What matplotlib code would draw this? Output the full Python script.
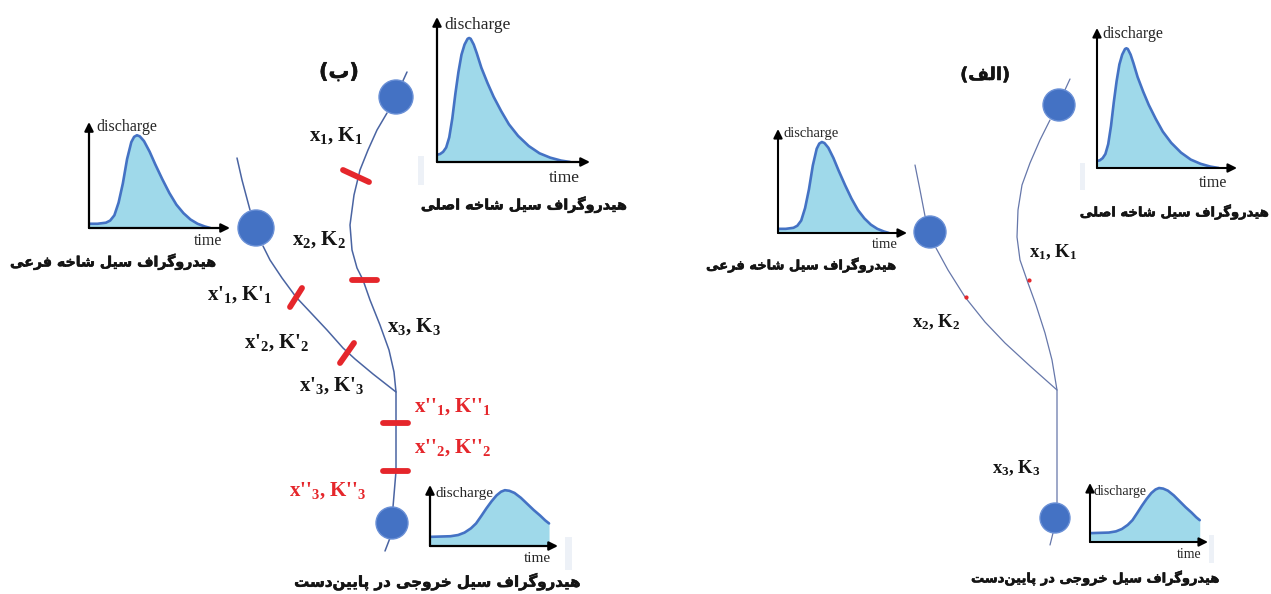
import matplotlib
matplotlib.use("Agg")
import matplotlib.pyplot as plt
import matplotlib.patheffects as pe
from matplotlib import font_manager
from matplotlib.font_manager import FontProperties
from matplotlib.ft2font import FT2Font
from matplotlib.patches import Circle, Rectangle

W, H = 1271, 594

# ---------------------------------------------------------------- data
# Hydrograph shapes: time and discharge as fractions of the axis length
MAIN_T = [0.00, 0.02, 0.04, 0.06, 0.08, 0.10, 0.12, 0.14, 0.16, 0.18, 0.20, 0.21, 0.22,
          0.24, 0.26, 0.29, 0.33, 0.37, 0.42, 0.47, 0.53, 0.60, 0.67, 0.74, 0.81, 0.87]
MAIN_Q = [0.05, 0.055, 0.07, 0.10, 0.17, 0.30, 0.47, 0.62, 0.74, 0.81, 0.85, 0.855, 0.85,
          0.81, 0.75, 0.65, 0.545, 0.45, 0.35, 0.26, 0.18, 0.11, 0.06, 0.03, 0.01, 0.0]

TRIB_T = [0.00, 0.06, 0.12, 0.15, 0.18, 0.21, 0.24, 0.27, 0.30, 0.32, 0.34, 0.36, 0.39,
          0.43, 0.47, 0.52, 0.57, 0.62, 0.67, 0.72, 0.77, 0.82, 0.86]
TRIB_Q = [0.04, 0.04, 0.05, 0.07, 0.12, 0.24, 0.42, 0.65, 0.81, 0.86, 0.875, 0.865, 0.82,
          0.72, 0.60, 0.46, 0.33, 0.22, 0.14, 0.08, 0.04, 0.015, 0.0]

OUT_T = [0.00, 0.08, 0.16, 0.22, 0.27, 0.32, 0.36, 0.40, 0.44, 0.48, 0.52, 0.555, 0.585,
         0.62, 0.66, 0.71, 0.76, 0.81, 0.86, 0.90, 0.93]
OUT_Q = [0.15, 0.155, 0.16, 0.18, 0.22, 0.29, 0.37, 0.49, 0.615, 0.73, 0.83, 0.89, 0.915,
         0.905, 0.87, 0.79, 0.69, 0.59, 0.50, 0.42, 0.37]

# Text
TITLE_A = "(الف)"
TITLE_B = "(ب)"
CAP_MAIN = "هیدروگراف سیل شاخه اصلی"
CAP_TRIB = "هیدروگراف سیل شاخه فرعی"
CAP_OUT = "هیدروگراف سیل خروجی در پایین\u200cدست"
Y_LABEL = "discharge"
X_LABEL = "time"

REACHES_B = ["x$_1$, K$_1$", "x$_2$, K$_2$", "x$_3$, K$_3$"]
REACHES_B_TRIB = ["x'$_1$, K'$_1$", "x'$_2$, K'$_2$", "x'$_3$, K'$_3$"]
REACHES_B_OUT = ["x''$_1$, K''$_1$", "x''$_2$, K''$_2$", "x''$_3$, K''$_3$"]
REACHES_A = ["x$_1$, K$_1$", "x$_2$, K$_2$", "x$_3$, K$_3$"]

# ---------------------------------------------------------------- style
FILL = "#9fd9ea"
CURVE = "#4472c4"
NODE = "#4472c4"
NODE_EDGE = "#6a90d6"
RIVER = "#4a64a2"
RIVER_A = "#6677aa"
RED = "#e5262b"
INK = "#141414"

plt.rcParams.update({
    "mathtext.fontset": "custom",
    "mathtext.rm": "Liberation Serif:bold",
    "mathtext.it": "Liberation Serif:bold",
    "mathtext.bf": "Liberation Serif:bold",
    "mathtext.default": "rm",
})

# ---------------------------------------------------------------- Persian shaping
_FORMS = {
    "ا": ("\uFE8D", "\uFE8E", None, None),
    "ب": ("\uFE8F", "\uFE90", "\uFE91", "\uFE92"),
    "پ": ("\uFB56", "\uFB57", "\uFB58", "\uFB59"),
    "ت": ("\uFE95", "\uFE96", "\uFE97", "\uFE98"),
    "ج": ("\uFE9D", "\uFE9E", "\uFE9F", "\uFEA0"),
    "خ": ("\uFEA5", "\uFEA6", "\uFEA7", "\uFEA8"),
    "د": ("\uFEA9", "\uFEAA", None, None),
    "ر": ("\uFEAD", "\uFEAE", None, None),
    "س": ("\uFEB1", "\uFEB2", "\uFEB3", "\uFEB4"),
    "ش": ("\uFEB5", "\uFEB6", "\uFEB7", "\uFEB8"),
    "ص": ("\uFEB9", "\uFEBA", "\uFEBB", "\uFEBC"),
    "ع": ("\uFEC9", "\uFECA", "\uFECB", "\uFECC"),
    "ف": ("\uFED1", "\uFED2", "\uFED3", "\uFED4"),
    "گ": ("\uFB92", "\uFB93", "\uFB94", "\uFB95"),
    "ل": ("\uFEDD", "\uFEDE", "\uFEDF", "\uFEE0"),
    "ن": ("\uFEE5", "\uFEE6", "\uFEE7", "\uFEE8"),
    "ه": ("\uFEE9", "\uFEEA", "\uFEEB", "\uFEEC"),
    "و": ("\uFEED", "\uFEEE", None, None),
    "\u06CC": ("\uFBFC", "\uFBFD", "\uFBFE", "\uFBFF"),
    "\u064A": ("\uFBFC", "\uFBFD", "\uFBFE", "\uFBFF"),
}
_YEH_FALLBACK = {"\uFBFC": "\uFEEF", "\uFBFD": "\uFEF0", "\uFBFE": "\uFEF3", "\uFBFF": "\uFEF4"}


def shape_rtl(text):
    chars = list(text)
    out = []
    for i, c in enumerate(chars):
        if c not in _FORMS:
            out.append(c)
            continue
        prev = chars[i - 1] if i > 0 else None
        nxt = chars[i + 1] if i + 1 < len(chars) else None
        join_prev = prev in _FORMS and _FORMS[prev][2] is not None
        join_next = nxt in _FORMS and _FORMS[c][2] is not None
        iso, fin, ini, med = _FORMS[c]
        if join_prev and join_next:
            out.append(med)
        elif join_prev:
            out.append(fin)
        elif join_next:
            out.append(ini)
        else:
            out.append(iso)
    out = [ch for ch in out if ch != "\u200c"]
    mirror = {"(": ")", ")": "("}
    return "".join(mirror.get(ch, ch) for ch in reversed(out))


_FA_STRINGS = [shape_rtl(s) for s in (TITLE_A, TITLE_B, CAP_MAIN, CAP_TRIB, CAP_OUT)]
_needed = {ord(c) for s in _FA_STRINGS for c in s if c != " "}
_bold_path = font_manager.findfont(FontProperties(family="DejaVu Sans", weight="bold"))
_reg_path = font_manager.findfont(FontProperties(family="DejaVu Sans"))
if _needed <= set(FT2Font(_bold_path).get_charmap()):
    FA_PATH, FA_EFFECTS = _bold_path, [pe.withStroke(linewidth=0.4, foreground=INK)]
else:
    FA_PATH = _reg_path
    FA_EFFECTS = [pe.withStroke(linewidth=1.1, foreground=INK)]
_reg_map = set(FT2Font(FA_PATH).get_charmap())


def fa(text):
    s = shape_rtl(text)
    return "".join(_YEH_FALLBACK.get(c, c) if ord(c) not in _reg_map else c for c in s)


# ---------------------------------------------------------------- canvas
fig = plt.figure(figsize=(W / 100, H / 100), dpi=100)
fig.patch.set_facecolor("white")
ax = fig.add_axes([0, 0, 1, 1])
ax.set_xlim(0, W)
ax.set_ylim(H, 0)
ax.axis("off")
renderer = fig.canvas.get_renderer()


def fit_width(t, width):
    w = t.get_window_extent(renderer).width
    t.set_fontsize(t.get_fontsize() * width / w)
    return t


def fa_text(x, y, s, width, size=13):
    t = ax.text(x, y, fa(s), fontproperties=FontProperties(fname=FA_PATH, size=size),
                ha="center", va="center", color=INK, path_effects=FA_EFFECTS)
    return fit_width(t, width)


def serif(x, y, s, size, color=INK, bold=True, ha="left"):
    fp = FontProperties(family="Liberation Serif", weight="bold" if bold else "normal", size=size)
    return ax.text(x, y, s, fontproperties=fp, color=color, ha=ha, va="center")


def river(pts, color, lw):
    ax.plot([p[0] for p in pts], [p[1] for p in pts], color=color, lw=lw,
            solid_capstyle="round", solid_joinstyle="round", zorder=2)


def node(x, y, r):
    ax.add_patch(Circle((x, y), r, facecolor=NODE, edgecolor=NODE_EDGE, lw=1.0, zorder=3))


def tick(x0, y0, x1, y1):
    ax.plot([x0, x1], [y0, y1], color=RED, lw=4.2, solid_capstyle="round", zorder=4)


def smudge(x, y, w, h):
    ax.add_patch(Rectangle((x, y), w, h, facecolor="#edf1f7", edgecolor="none", zorder=1))


def hydrograph(x0, y0, x1, y1, t, q, label_size, dlab, tlab, lw_axis=1.6):
    a = fig.add_axes([x0 / W, 1 - y0 / H, (x1 - x0) / W, (y0 - y1) / H])
    a.set_xlim(0, 1)
    a.set_ylim(0, 1)
    a.axis("off")
    a.patch.set_visible(False)
    a.fill_between(t, q, 0, color=FILL, lw=0, zorder=1)
    a.plot(t, q, color=CURVE, lw=1.9, zorder=2, solid_capstyle="round")
    for end in [(0, 1), (1, 0)]:
        a.annotate("", xy=end, xytext=(0, 0), xycoords="axes fraction",
                   arrowprops=dict(arrowstyle="-|>", color="black", lw=lw_axis,
                                   mutation_scale=13, shrinkA=0, shrinkB=0),
                   annotation_clip=False, zorder=3)
    serif(dlab[0], dlab[1], Y_LABEL, label_size, bold=False, color="#262626")
    serif(tlab[0], tlab[1], X_LABEL, label_size, bold=False, color="#262626")
    return a


# ================================================================ panel (ب)
# main branch
river([(407, 72), (396, 96)], RIVER, 1.1)
river([(387, 113), (377, 130), (368, 150), (360, 170), (354, 195), (350, 225), (352, 250),
       (357, 268), (363, 280), (370, 300), (380, 325), (389, 350), (394, 372), (396, 392),
       (396, 430), (396, 471), (393, 507)], RIVER, 1.1)
river([(390, 538), (385, 551)], RIVER, 1.1)
# tributary
river([(237, 158), (242, 180), (250, 210)], RIVER, 1.1)
river([(263, 246), (270, 260), (282, 278), (296, 297), (312, 314), (327, 330), (343, 348),
       (355, 359), (373, 374), (396, 392)], RIVER, 1.1)

node(396, 97, 17)
node(256, 228, 18)
node(392, 523, 16)

tick(343, 170, 369, 182)
tick(352, 280, 377, 280)
tick(290, 307, 302, 288)
tick(340, 363, 354, 343)
tick(383, 423, 408, 423)
tick(383, 471, 408, 471)

LAB_B = 15
serif(309, 136, REACHES_B[0], LAB_B)
serif(292, 240, REACHES_B[1], LAB_B)
serif(387, 327, REACHES_B[2], LAB_B)
serif(207, 295, REACHES_B_TRIB[0], LAB_B)
serif(244, 343, REACHES_B_TRIB[1], LAB_B)
serif(299, 386, REACHES_B_TRIB[2], LAB_B)
serif(414, 407, REACHES_B_OUT[0], LAB_B, color=RED)
serif(414, 448, REACHES_B_OUT[1], LAB_B, color=RED)
serif(289, 491, REACHES_B_OUT[2], LAB_B, color=RED)

smudge(418, 156, 6, 29)
smudge(565, 537, 7, 33)

hydrograph(437, 162, 590, 17, MAIN_T, MAIN_Q, 12.5, (444, 25), (549, 178))
hydrograph(89, 228, 230, 122, TRIB_T, TRIB_Q, 11.5, (96, 127), (194, 241))
hydrograph(430, 546, 558, 485, OUT_T, OUT_Q, 11, (435, 493), (524, 559))

fa_text(339, 72, TITLE_B, 40, 16)
fa_text(524, 205, CAP_MAIN, 206)
fa_text(113, 262, CAP_TRIB, 206)
fa_text(437, 582, CAP_OUT, 286)

# ================================================================ panel (الف)
river([(1070, 79), (1064, 92)], RIVER_A, 0.9)
river([(1050, 120), (1040, 140), (1030, 163), (1022, 185), (1018, 210), (1017, 237),
       (1020, 260), (1028, 283), (1036, 305), (1045, 333), (1052, 360), (1057, 390),
       (1057, 420), (1057, 503)], RIVER_A, 0.9)
river([(1053, 533), (1050, 545)], RIVER_A, 0.9)
river([(915, 165), (920, 190), (925, 216)], RIVER_A, 0.9)
river([(936, 248), (948, 270), (965, 297), (985, 322), (1005, 343), (1030, 366),
       (1057, 390)], RIVER_A, 0.9)

node(1059, 105, 16)
node(930, 232, 16)
node(1055, 518, 15)

ax.plot([1029, 966], [280, 297], ls="none", marker="o", ms=2, color=RED, zorder=4)

LAB_A = 13.5
serif(1029, 252, REACHES_A[0], LAB_A)
serif(912, 322, REACHES_A[1], LAB_A)
serif(992, 468, REACHES_A[2], LAB_A)

smudge(1080, 163, 5, 27)
smudge(1209, 535, 5, 28)

hydrograph(1097, 168, 1237, 28, MAIN_T, MAIN_Q, 11.5, (1102, 34), (1199, 183), 1.5)
hydrograph(778, 233, 907, 129, TRIB_T, TRIB_Q, 10.5, (784, 133), (872, 245), 1.5)
hydrograph(1090, 542, 1208, 483, OUT_T, OUT_Q, 10, (1094, 492), (1177, 555), 1.5)

fa_text(985, 75, TITLE_A, 50, 16)
fa_text(1175, 212, CAP_MAIN, 189)
fa_text(801, 265, CAP_TRIB, 190)
fa_text(1095, 578, CAP_OUT, 248)

fig.savefig("out.png", dpi=100, facecolor="white")
